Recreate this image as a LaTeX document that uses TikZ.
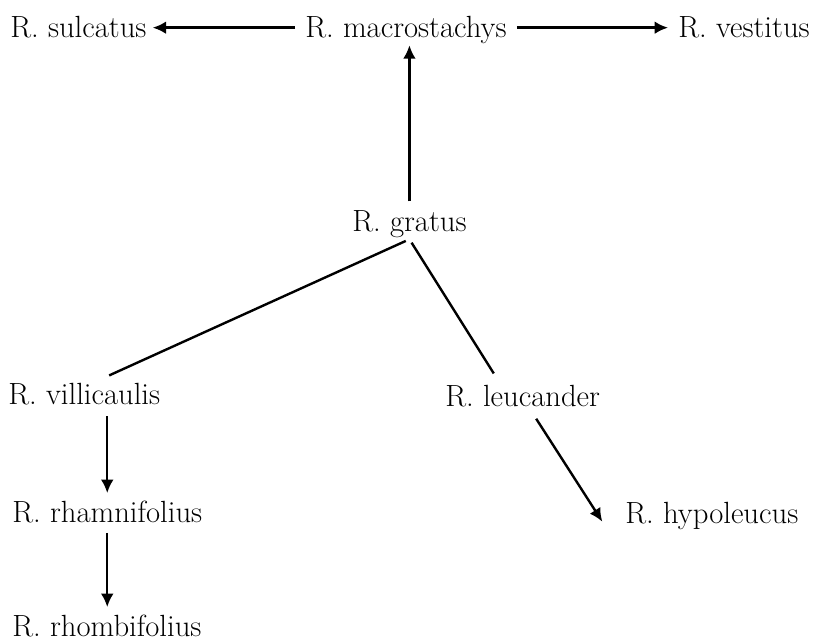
\documentclass[tikz,border=0pt]{standalone}
\usetikzlibrary{arrows.meta}

\tikzset{
    taxon/.style={font=\fontsize{23}{27}\selectfont, inner sep=0pt, anchor=base west,
                  text height=20pt, text depth=6pt},
    link/.style={line width=1.8pt},
    descent/.style={link, -{Latex[length=10pt,width=9.5pt]}},
}

\begin{document}
\begin{tikzpicture}[x=0.75pt, y=-0.75pt]
            \useasboundingbox (0,0) rectangle (820,640);
            % Top row
            \node[taxon] (sulcatus) at (10,37) {R. sulcatus};
            \node[taxon] (macrostachys) at (305,37) {R. macrostachys};
            \node[taxon] (vestitus) at (678,37) {R. vestitus};
            % Middle
            \node[taxon] (gratus) at (352,231) {R. gratus};
            \node[taxon] (villicaulis) at (8,404) {R. villicaulis};
            \node[taxon] (leucander) at (445,406) {R. leucander};
            % Bottom
            \node[taxon] (rhamnifolius) at (12,522) {R. rhamnifolius};
            \node[taxon] (hypoleucus) at (625,523) {R. hypoleucus};
            \node[taxon] (rhombifolius) at (12,636) {R. rhombifolius};
            % Arrows from macrostachys
            \draw[descent, shorten <=7.5pt, shorten >=4.5pt] (macrostachys.west) -- (sulcatus.east);
            \draw[descent, shorten <=7.5pt, shorten >=7.5pt] (macrostachys.east) -- (vestitus.west);
            \draw[descent, shorten <=2pt] (gratus.north) -- (gratus.north |- macrostachys.south);
            % Branches below gratus
            \draw[link, shorten <=3pt, shorten >=3pt] (gratus.south) -- ([xshift=16pt]villicaulis.north);
            \draw[link, shorten <=3pt, shorten >=5pt] (gratus.south) -- ([xshift=-19pt]leucander.north);
            % Chains
            \draw[descent, shorten <=3pt, shorten >=1.5pt] (villicaulis.south -| rhamnifolius.north) -- (rhamnifolius.north);
            \draw[descent, shorten <=2pt, shorten >=1.5pt] (rhamnifolius.south) -- (rhamnifolius.south |- rhombifolius.north);
            \draw[descent, shorten <=4pt] ([xshift=8pt]leucander.south) -- ([xshift=-17pt,yshift=-6pt]hypoleucus.west);
        \end{tikzpicture}
\end{document}
